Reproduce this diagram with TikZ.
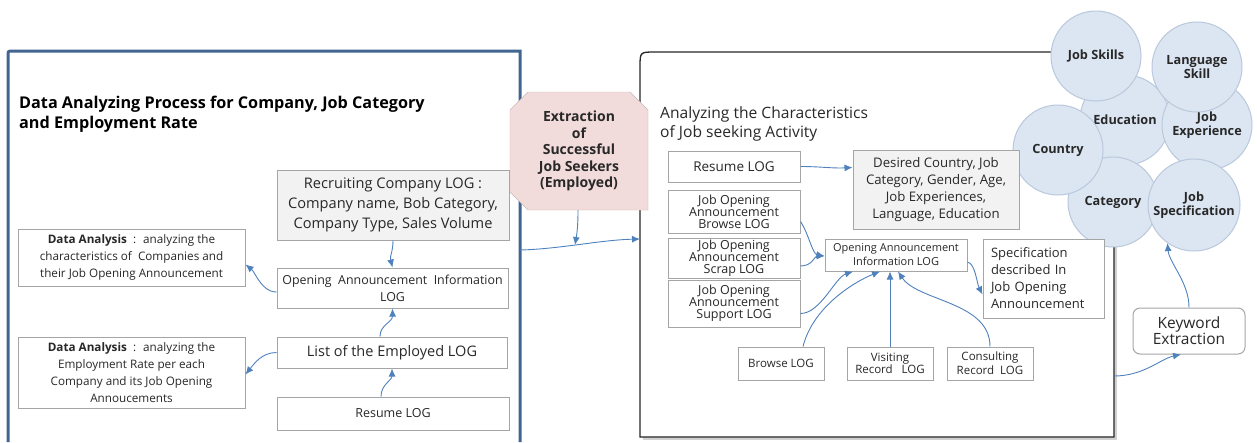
\documentclass[tikz,border=0pt]{standalone}
\usepackage{fontspec}
\setmainfont{Open Sans}
\usetikzlibrary{arrows.meta,shapes.misc}

\definecolor{frameblue}{RGB}{65,100,145}
\definecolor{boxline}{RGB}{165,165,165}
\definecolor{boxfill}{RGB}{242,242,242}
\definecolor{arrowblue}{RGB}{79,129,189}
\definecolor{pinkfill}{RGB}{242,220,219}
\definecolor{pinkline}{RGB}{200,185,185}
\definecolor{circlefill}{RGB}{220,230,242}
\definecolor{circleline}{RGB}{185,200,220}
\definecolor{inktext}{RGB}{40,40,40}

\newcommand{\setfs}[2]{\fontsize{#1}{#2}\selectfont}

\tikzset{
  logbox/.style={draw=boxline, line width=1pt, fill=white, align=center,
    inner sep=1pt, text=inktext},
  graybox/.style={logbox, fill=boxfill},
  topic/.style={circle, draw=circleline, line width=1pt, fill=circlefill,
    minimum size=90pt, inner sep=0pt, align=center, text=inktext,
    font=\bfseries\setfs{12.7}{14.5}},
  flow/.style={draw=arrowblue, line width=0.9pt,
    -{Latex[length=8pt,width=7pt]}},
}

\begin{document}
\begin{tikzpicture}[x=1pt,y=-1pt]
    \useasboundingbox (0,0) rectangle (1257,442);
    % draw the frames
    \draw[frameblue, line width=3pt] (8,442) -- (8,56) .. controls (8,51) .. (13,51) -- (520,51) -- (520,442);
    \fill[black!18] (643,55) rectangle (1117,440);
    \filldraw[draw=black!85, fill=white, line width=1.3pt] (640,437) -- (640,67) .. controls (640,52) .. (655,52) -- (1114,52) -- (1114,437) -- cycle;
    % the titles
    \node[anchor=base west, align=left, inner sep=0pt, font=\bfseries\setfs{16.2}{20}] (ltitle) at (19,128)
        {Data Analyzing Process for Company, Job Category\\and Employment Rate};
    \node[anchor=base west, align=left, inner sep=0pt, font=\setfs{15.6}{19}, text=inktext] (rtitle) at (660,137)
        {Analyzing the Characteristics\\of Job seeking Activity};
    % draw the topic circles
    \node[topic] (edu) at (1125,120) {Education};
    \node[topic] (cat) at (1113,202) {Category};
    \node[topic] (jex) at (1207,125) {Job\\Experience};
    \node[topic] (cty) at (1058,150) {Country};
    \node[topic] (jsk) at (1096,56) {Job Skills};
    \node[topic] (lsk) at (1197,67) {Language\\Skill};
    \node[topic, minimum size=92pt] (jsp) at (1194,205) {Job\\Specification};
    % the left nodes
    \node[graybox, minimum width=232pt, minimum height=70pt, font=\setfs{14.6}{20}] (rcl) at (393,205)
        {Recruiting Company LOG :\\Company name, Bob Category,\\Company Type, Sales Volume};
    \node[logbox, minimum width=227pt, minimum height=57pt, font=\setfs{11.7}{17}] (da1) at (131.5,257.5)
        {\textbf{Data Analysis}~~:~ analyzing the\\characteristics of~ Companies and\\their Job Opening Announcement};
    \node[logbox, minimum width=231pt, minimum height=40pt, font=\setfs{12.4}{17}] (oai) at (392.5,288)
        {Opening~ Announcement~ Information\\LOG};
    \node[logbox, minimum width=230pt, minimum height=31pt, font=\setfs{14.5}{16}] (emp) at (392,352.5)
        {List of the Employed LOG};
    \node[logbox, minimum width=227pt, minimum height=71pt, font=\setfs{11.7}{17}] (da2) at (131.5,372.5)
        {\textbf{Data Analysis}~~:~ analyzing the\\Employment Rate per each\\Company and its Job Opening\\Annoucements};
    \node[logbox, minimum width=232pt, minimum height=33pt, font=\setfs{12.5}{15}] (rsl) at (393,413.5)
        {Resume LOG};
    % the extraction step
    \node[chamfered rectangle, chamfered rectangle corners={north west,north east,south west},
        chamfered rectangle xsep=9pt, chamfered rectangle ysep=9pt, draw=pinkline, fill=pinkfill,
        minimum width=138pt, minimum height=118pt, inner sep=0pt, align=center,
        font=\bfseries\setfs{14}{16.5}, text=inktext] (ext) at (579,151)
        {Extraction\\of\\Successful\\Job Seekers\\(Employed)};
    % the right nodes
    \node[logbox, minimum width=132pt, minimum height=31pt, font=\setfs{13.5}{14}] (rsr) at (734,166.5) {Resume LOG};
    \node[logbox, minimum width=132pt, minimum height=43pt, font=\setfs{12.5}{12}] (jbr) at (734,211.5)
        {Job Opening\\Announcement\\Browse LOG};
    \node[logbox, minimum width=132pt, minimum height=40pt, font=\setfs{12.5}{12}] (jsc) at (734,258)
        {Job Opening\\Announcement\\Scrap LOG};
    \node[logbox, minimum width=132pt, minimum height=47pt, font=\setfs{12.5}{12}] (jsu) at (734,303.5)
        {Job Opening\\Announcement\\Support LOG};
    \node[graybox, minimum width=166pt, minimum height=79pt, font=\setfs{13.2}{17}] (dcj) at (936,189.5)
        {Desired Country, Job\\Category, Gender, Age,\\Job Experiences,\\Language, Education};
    \node[logbox, minimum width=142pt, minimum height=32pt, font=\setfs{11}{14}] (oar) at (896,255)
        {Opening Announcement\\Information LOG};
    \node[logbox, minimum width=121pt, minimum height=79pt, text width=105pt, align=left, font=\setfs{13}{17}] (spc) at (1043.5,278.5)
        {Specification\\described In\\Job Opening\\Announcement};
    \node[logbox, minimum width=86pt, minimum height=33pt, font=\setfs{11.5}{14}] (brw) at (781,363.5) {Browse LOG};
    \node[logbox, minimum width=86pt, minimum height=33pt, font=\setfs{11.5}{11}] (vis) at (890,363.5) {Visiting\\Record~~ LOG};
    \node[logbox, minimum width=86pt, minimum height=33pt, font=\setfs{11.5}{14}] (con) at (990,363.5) {Consulting\\Record~ LOG};
    \node[logbox, rounded corners=7pt, minimum width=112pt, minimum height=46pt, font=\setfs{15.5}{16}] (kwe) at (1189,331)
        {Keyword\\Extraction};
    % points on the frames
    \coordinate (lout) at (520,250);
    \coordinate (join) at (575,245);
    \coordinate (rin) at (640,239);
    \coordinate (rout) at (1114,376);
    % draw the left arrows
    \draw[flow] (rcl.south) .. controls +(0,12) and +(-3,-12) .. (oai.north);
    \draw[flow] ([yshift=-4pt]oai.west) .. controls +(-15,0) and +(10,8) .. ([yshift=-7pt]da1.east);
    \draw[flow] ([xshift=-12pt]emp.north) .. controls +(0,-12) and +(0,14) .. (oai.south);
    \draw[flow] (emp.west) .. controls +(-15,0) and +(8,-10) .. ([yshift=-2pt]da2.east);
    \draw[flow] ([xshift=-12pt]rsl.north) .. controls +(0,-12) and +(0,12) .. (emp.south);
    % draw the middle arrows
    \draw[flow] (lout) .. controls (560,249) and (600,240) .. (rin);
    \draw[flow] ([xshift=-1pt]ext.south) .. controls +(0,15) and +(2,-12) .. (join);
    % draw the right arrows
    \draw[flow] (rsr.east) .. controls +(20,0) and +(-20,1) .. ([yshift=22pt]dcj.west);
    \draw[flow] ([yshift=-10pt]jbr.east) .. controls +(8,12) and +(-12,-2) .. ([yshift=-1pt]oar.west);
    \draw[flow] ([yshift=-8pt]jsc.east) .. controls +(12,0) and +(-10,0) .. ([yshift=-1pt]oar.west);
    \draw[flow] ([yshift=-10pt]jsu.east) .. controls +(20,0) and +(-18,6) .. ([xshift=-43pt]oar.south);
    \draw[flow] ([xshift=22pt]brw.north) .. controls +(10,-40) and +(-25,10) .. ([xshift=-16pt]oar.south);
    \draw[flow] (vis.north) -- ([xshift=-6pt]oar.south);
    \draw[flow] (con.north) .. controls +(0,-45) and +(20,30) .. ([xshift=2pt]oar.south);
    \draw[flow] ([yshift=-7pt]oar.east) .. controls +(8,2) and +(-6,-12) .. ([yshift=-16pt]spc.west);
    \draw[flow] (rout) .. controls +(30,0) and +(-20,4) .. ([xshift=-8pt]kwe.south);
    \draw[flow] (kwe.north) .. controls +(0,-25) and +(2,20) .. (jsp.-125);
\end{tikzpicture}
\end{document}
